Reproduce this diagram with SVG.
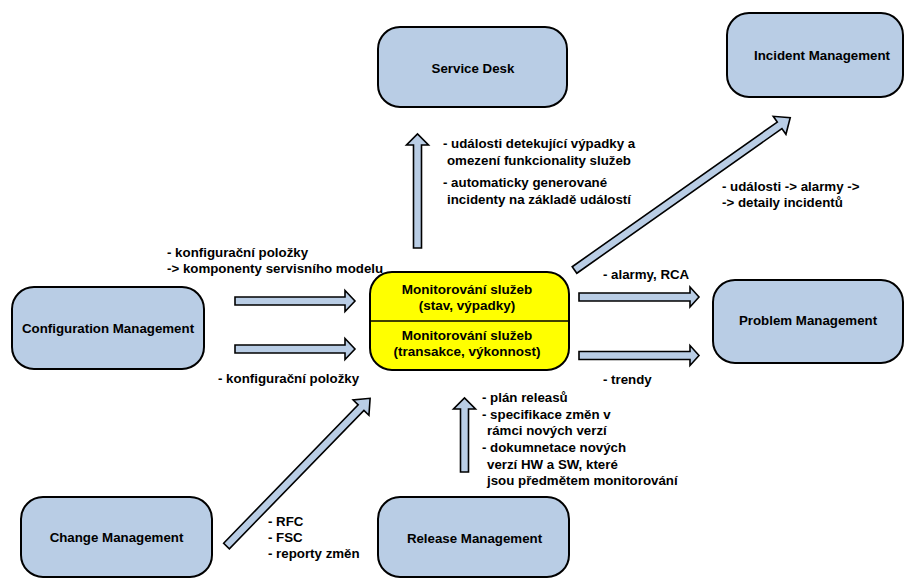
<svg xmlns="http://www.w3.org/2000/svg" width="904" height="578" viewBox="0 0 904 578">
  <style>
    .box { fill: #B9CDE5; stroke: #000; stroke-width: 2; }
    .core { fill: #FFFF00; stroke: #000; stroke-width: 2; }
    .arrow { fill: #B9CDE5; stroke: #000; stroke-width: 1.6; stroke-linejoin: miter; }
    text { font-family: "Liberation Sans", Arial, sans-serif; font-weight: bold; fill: #000; }
    .title { font-size: 13.3px; text-anchor: middle; }
    .core-t { font-size: 13.5px; text-anchor: middle; }
    .lbl { font-size: 13.3px; }
  </style>

  <!-- flow arrows -->
  <g id="connectors">
    <!-- monitoring -> Service Desk -->
    <polygon class="arrow" points="413.5,248 413.5,145 406.5,145 417.5,134 428.5,145 421.5,145 421.5,248"/>
    <!-- monitoring -> Incident Management -->
    <polygon class="arrow" transform="translate(574.5,270) rotate(-35.2)" points="0,-4 251,-4 251,-11 264,0 251,11 251,4 0,4"/>
    <!-- Configuration Management -> monitoring -->
    <polygon class="arrow" points="235,297 345,297 345,290.5 355,301 345,311.5 345,305 235,305"/>
    <polygon class="arrow" points="235,345 345,345 345,338.5 355,349 345,359.5 345,353 235,353"/>
    <!-- monitoring -> Problem Management -->
    <polygon class="arrow" points="579,293 690,293 690,287 699,297 690,307 690,301 579,301"/>
    <polygon class="arrow" points="579,351.5 690,351.5 690,345.5 699,355.5 690,365.5 690,359.5 579,359.5"/>
    <!-- Change Management -> monitoring -->
    <polygon class="arrow" transform="translate(226.5,546) rotate(-45.8)" points="0,-4 193,-4 193,-11 206,0 193,11 193,4 0,4"/>
    <!-- Release Management -> monitoring -->
    <polygon class="arrow" points="460.5,472 460.5,409 453.5,409 464.5,398 475.5,409 468.5,409 468.5,472"/>
  </g>

  <!-- flow labels -->
  <g id="labels" class="lbl">
    <text class="lbl" x="443" y="148">- události detekující výpadky a</text>
    <text class="lbl" x="447" y="165">omezení funkcionality služeb</text>
    <text class="lbl" x="443" y="187">- automaticky generované</text>
    <text class="lbl" x="447" y="204">incidenty na základě událostí</text>

    <text class="lbl" x="722" y="191">- události -&gt; alarmy -&gt;</text>
    <text class="lbl" x="722" y="207">-&gt; detaily incidentů</text>

    <text class="lbl" x="167" y="257">- konfigurační položky</text>
    <text class="lbl" x="167" y="273">-&gt; komponenty servisního modelu</text>
    <text class="lbl" x="218" y="383">- konfigurační položky</text>

    <text class="lbl" x="603" y="279">- alarmy, RCA</text>
    <text class="lbl" x="603" y="384">- trendy</text>

    <text class="lbl" x="482" y="402">- plán releasů</text>
    <text class="lbl" x="482" y="419">- specifikace změn v</text>
    <text class="lbl" x="487" y="435">rámci nových verzí</text>
    <text class="lbl" x="482" y="452">- dokumnetace nových</text>
    <text class="lbl" x="487" y="469">verzí HW a SW, které</text>
    <text class="lbl" x="487" y="485">jsou předmětem monitorování</text>

    <text class="lbl" x="268" y="526">- RFC</text>
    <text class="lbl" x="268" y="542">- FSC</text>
    <text class="lbl" x="268" y="558">- reporty změn</text>
  </g>

  <g id="service-desk">
    <rect class="box" x="378" y="27" width="189" height="80" rx="22" ry="22"/>
    <text class="title" x="473" y="73">Service Desk</text>
  </g>

  <g id="incident-management">
    <rect class="box" x="727" y="13" width="176" height="84" rx="22" ry="22"/>
    <text class="title" x="822" y="60">Incident Management</text>
  </g>

  <g id="configuration-management">
    <rect class="box" x="12" y="287" width="192" height="82" rx="22" ry="22"/>
    <text class="title" x="108" y="333">Configuration Management</text>
  </g>

  <g id="monitoring">
    <rect class="core" x="370" y="272" width="199" height="98" rx="22" ry="22"/>
    <line x1="370" y1="321" x2="569" y2="321" stroke="#000" stroke-width="1.5"/>
    <text class="core-t" x="467" y="294">Monitorování služeb</text>
    <text class="core-t" x="467" y="310">(stav, výpadky)</text>
    <text class="core-t" x="467" y="340">Monitorování služeb</text>
    <text class="core-t" x="467" y="356">(transakce, výkonnost)</text>
  </g>

  <g id="problem-management">
    <rect class="box" x="713" y="280" width="190" height="83" rx="22" ry="22"/>
    <text class="title" x="808" y="325">Problem Management</text>
  </g>

  <g id="change-management">
    <rect class="box" x="21" y="497" width="191" height="80" rx="22" ry="22"/>
    <text class="title" x="116.5" y="542">Change Management</text>
  </g>

  <g id="release-management">
    <rect class="box" x="378" y="497" width="191" height="80" rx="22" ry="22"/>
    <text class="title" x="474.5" y="543">Release Management</text>
  </g>
</svg>
